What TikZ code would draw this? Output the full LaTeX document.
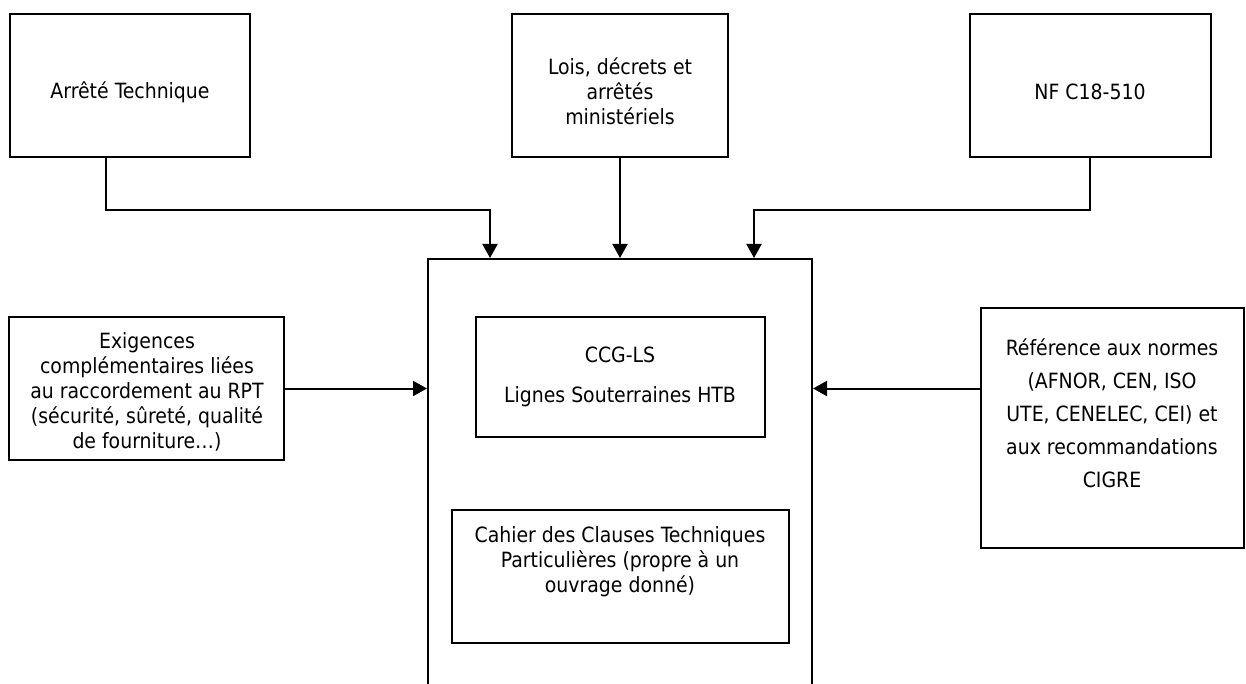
\documentclass[tikz,border=0pt]{standalone}
\usepackage{fontspec}
\setmainfont{DejaVu Sans Condensed}
\usetikzlibrary{arrows.meta,calc}
\begin{document}
\begin{tikzpicture}[x=1pt,y=-1pt,
  frame/.style={draw, line width=2pt, rectangle, inner sep=0pt},
  txt/.style={align=center, inner sep=0pt, font=\fontsize{21}{25}\selectfont},
  feed/.style={line width=2pt, -{Triangle[length=14pt,width=15pt]}}
]
\clip (0,0) rectangle (1246,684);
\fill[white] (0,0) rectangle (1246,684);

% upper sources
\node[frame, minimum width=240, minimum height=143] (arrete) at (130,85.5) {};
\node[frame, minimum width=216, minimum height=143] (lois) at (620,85.5) {};
\node[frame, minimum width=241, minimum height=143] (nf) at (1090.5,85.5) {};

% side sources
\node[frame, minimum width=275, minimum height=143] (exig) at (146.5,388.5) {};
\node[frame, minimum width=263, minimum height=240] (ref) at (1112.5,428) {};

% main document, open towards the bottom
\node[frame, minimum width=384, minimum height=441] (main) at (620,479.5) {};
\node[frame, minimum width=289, minimum height=120] (ccg) at (620.5,377) {};
\node[frame, minimum width=337, minimum height=133] (cctp) at (620.5,576.5) {};

% texts
\node[txt] (tArrete) at (130,92) {Arrêté Technique};
\node[txt] (tLois) at (620,91) {Lois, décrets et\\arrêtés\\ministériels};
\node[txt] (tNf) at (1090,92) {NF C18-510};
\node[txt] (tExig) at (147,392) {Exigences\\complémentaires liées\\au raccordement au RPT\\(sécurité, sûreté, qualité\\de fourniture…)};
\node[txt, font=\fontsize{21}{33}\selectfont] (tRef) at (1112,413) {Référence aux normes\\(AFNOR, CEN, ISO\\UTE, CENELEC, CEI) et\\aux recommandations\\CIGRE};
\node[txt, font=\fontsize{21}{40}\selectfont] (tCcg) at (620,377) {CCG-LS\\Lignes Souterraines HTB};
\node[txt] (tCctp) at (620,562) {Cahier des Clauses Techniques\\Particulières (propre à un\\ouvrage donné)};

% bend points of the upper connectors
\coordinate (ka) at (106,210);
\coordinate (kb) at (490,210);
\coordinate (kc) at (1090,210);
\coordinate (kd) at (754,210);

\draw[feed] (arrete.south -| ka) -- (ka) -- (kb) -- (kb |- main.north);
\draw[feed] (lois.south) -- (lois.south |- main.north);
\draw[feed] (nf.south -| kc) -- (kc) -- (kd) -- (kd |- main.north);
\draw[feed] (exig.east) -- (exig.east -| main.west);
\draw[feed] (exig.east -| ref.west) -- (exig.east -| main.east);
\end{tikzpicture}
\end{document}
